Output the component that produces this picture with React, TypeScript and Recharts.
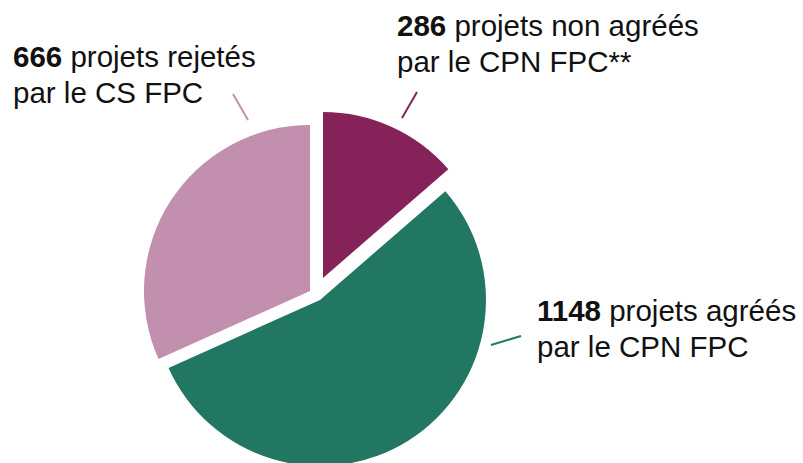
import { PieChart, Pie, Cell } from "recharts";

const categories = ["non agréés", "agréés", "rejetés"];
const values = [286, 1148, 666];
const colors = ["#86225A", "#227762", "#C290AE"];
const boldLabels = ["286", "1148", "666"];
const labelLines1 = [" projets non agréés", " projets agréés", " projets rejetés"];
const labelLines2 = ["par le CPN FPC**", "par le CPN FPC", "par le CS FPC"];

const data = categories.map((name, i) => ({ name, value: values[i] }));

// each slice drawn by its own Pie so it can be pulled out of the centre
const centers = [
  { cx: 323, cy: 278 },
  { cx: 320, cy: 300 },
  { cx: 310, cy: 291 },
];

// label text and connector positions
const labelPos = [
  { x: 397, y: 36, line: [402, 118, 417, 92] },
  { x: 537, y: 321, line: [491, 345, 521, 336] },
  { x: 13, y: 67, line: [248, 120, 233, 94] },
];

const FONT = "'Liberation Sans', Arial, Helvetica, sans-serif";

function makeLabel(own: number) {
  return (props: any) => {
    if (props.index !== own) return null;
    const p = labelPos[own];
    const [x1, y1, x2, y2] = p.line;
    return (
      <g>
        <line x1={x1} y1={y1} x2={x2} y2={y2} stroke={colors[own]} strokeWidth={2} />
        <text x={p.x} y={p.y} fontSize={29.5} fontFamily={FONT} fill="#111">
          <tspan fontWeight={700}>{boldLabels[own]}</tspan>
          <tspan>{labelLines1[own]}</tspan>
        </text>
        <text x={p.x} y={p.y + 36} fontSize={29.5} fontFamily={FONT} fill="#111">
          {labelLines2[own]}
        </text>
      </g>
    );
  };
}

export default function App() {
  return (
    <div style={{ position: "absolute", left: 0, top: 0, background: "#fff" }}>
      <PieChart
        width={803}
        height={463}
        margin={{ top: 0, right: 0, bottom: 0, left: 0 }}
        style={{ outline: "none" }}
      >
        {centers.map((c, own) => (
          <Pie
            key={own}
            data={data}
            dataKey="value"
            nameKey="name"
            cx={c.cx}
            cy={c.cy}
            innerRadius={0}
            outerRadius={166}
            startAngle={90}
            endAngle={-270}
            stroke="none"
            labelLine={false}
            label={makeLabel(own)}
            isAnimationActive={false}
          >
            {data.map((d, i) => (
              <Cell key={d.name} fill={i === own ? colors[i] : "transparent"} />
            ))}
          </Pie>
        ))}
      </PieChart>
    </div>
  );
}
